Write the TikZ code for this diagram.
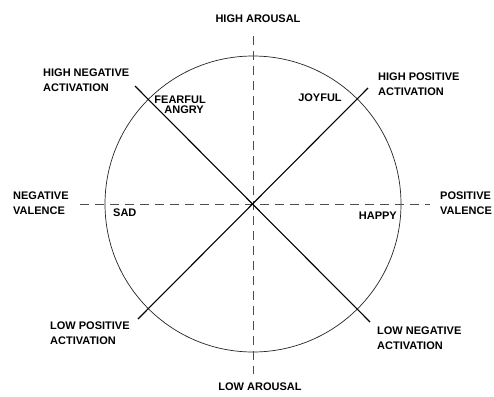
\documentclass[tikz,border=0pt]{standalone}
\usepackage{fontspec}
\setmainfont{Liberation Sans}
\begin{document}
\begin{tikzpicture}[x=1pt,y=-1pt,
  lbl/.style={font=\fontsize{11}{14.5}\selectfont\bfseries, inner sep=0pt, text=black},
  lblm/.style={lbl, align=left, anchor=north west},
  axis/.style={dashed, dash pattern=on 9pt off 6pt, draw=black!70, line width=0.8pt},
  diag/.style={draw=black, line width=1.1pt},
  ring/.style={draw=black!85, line width=0.7pt}]
\path[use as bounding box, fill=white] (0,0) rectangle (494,396);
\coordinate (c) at (253,204);
\coordinate (vt) at (253,36);
\coordinate (vb) at (253,374);
\coordinate (hl) at (80,204);
\coordinate (hr) at (430,204);
\coordinate (nw) at (135,86);
\coordinate (se) at (370,322);
\coordinate (ne) at (368,88);
\coordinate (sw) at (138,319);
\draw[ring] (c) circle (148);
\draw[axis] (vt) -- (vb);
\draw[axis] (hl) -- (hr);
\draw[diag] (nw) -- (se);
\draw[diag] (ne) -- (sw);
\node[lbl] (ha) at (258,19) {HIGH AROUSAL};
\node[lbl] (la) at (260,387) {LOW AROUSAL};
\node[lblm] (hna) at (43,69) {HIGH NEGATIVE\\ACTIVATION};
\node[lblm] (hpa) at (378,73) {HIGH POSITIVE\\ACTIVATION};
\node[lblm] (nv) at (13,192) {NEGATIVE\\VALENCE};
\node[lblm] (pv) at (440,192) {POSITIVE\\VALENCE};
\node[lblm] (lpa) at (50,322) {LOW POSITIVE\\ACTIVATION};
\node[lblm] (lna) at (377,327) {LOW NEGATIVE\\ACTIVATION};
\node[lbl, anchor=east] (fear) at (206,100) {FEARFUL};
\node[lbl, anchor=east] (angry) at (204,110) {ANGRY};
\node[lbl] (joy) at (320,98) {JOYFUL};
\node[lbl, anchor=west] (sad) at (113,213) {SAD};
\node[lbl, anchor=east] (happy) at (397,216) {HAPPY};
\end{tikzpicture}
\end{document}
